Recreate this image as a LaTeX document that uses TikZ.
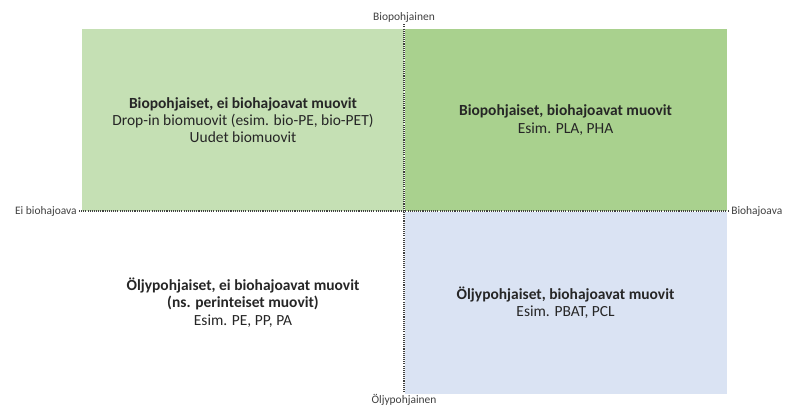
\documentclass[tikz,border=0pt]{standalone}
\usepackage{fontspec}
\setmainfont{Carlito}
\usepackage{tikz}
\usetikzlibrary{positioning}

\definecolor{biolight}{HTML}{C5E0B4}
\definecolor{biogreen}{HTML}{A9D18E}
\definecolor{oilblue}{HTML}{DAE3F3}
\definecolor{axisgray}{HTML}{404040}

\begin{document}
\begin{tikzpicture}[x=0.75pt,y=-0.75pt,node distance=0pt,
    quad/.style={rectangle,minimum width=241.5pt,minimum height=136.5pt,inner sep=0pt,
      align=center,text=black!85,font=\fontsize{11.6}{12.9}\selectfont},
    axislabel/.style={inner sep=1.5pt,text=black!75,font=\fontsize{8.6}{9}\selectfont},
    axisline/.style={axisgray,line width=1.1pt,dash pattern=on 0.8pt off 0.8pt}]
      \useasboundingbox (0,0) rectangle (786,408);
      \node[quad,fill=biolight] (q_bn) at (243,120) {
        \textbf{Biopohjaiset, ei biohajoavat muovit}\\
        Drop-in biomuovit (esim. bio-PE, bio-PET)\\
        Uudet biomuovit
      };
      \node[quad,fill=biogreen] (q_bb) [right=of q_bn] {
        \textbf{Biopohjaiset, biohajoavat muovit}\\
        Esim. PLA, PHA
      };
      \node[quad] (q_on) [below=of q_bn] {
        \textbf{Öljypohjaiset, ei biohajoavat muovit}\\
        \textbf{(ns. perinteiset muovit)}\\
        Esim. PE, PP, PA
      };
      \node[quad,fill=oilblue] (q_ob) [right=of q_on] {
        \textbf{Öljypohjaiset, biohajoavat muovit}\\
        Esim. PBAT, PCL
      };

      \node[axislabel,anchor=east] (l_ei) at (79,211) {Ei biohajoava};
      \node[axislabel,anchor=west] (l_bh) at (729,211) {Biohajoava};
      \node[axislabel] (l_bp) at (404,17) {Biopohjainen};
      \node[axislabel] (l_op) at (404,400) {Öljypohjainen};

      \draw[axisline] (l_ei.east) -- (l_bh.west);
      \draw[axisline] (l_bp.south) -- (l_op.north);
    \end{tikzpicture}
\end{document}
